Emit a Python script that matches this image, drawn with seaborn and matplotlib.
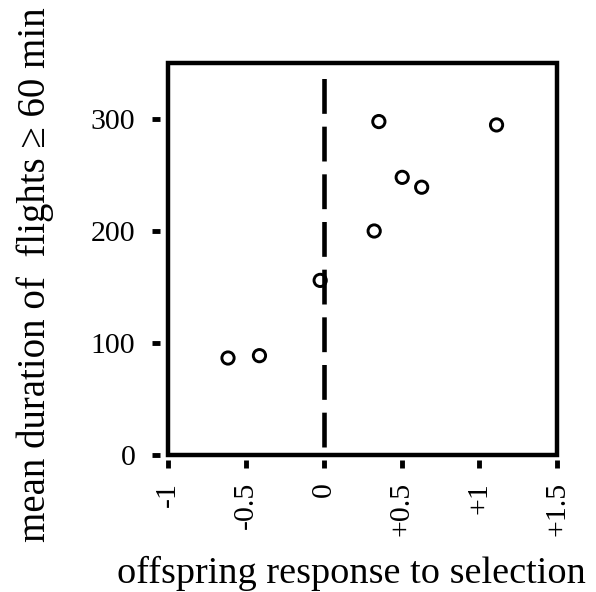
import matplotlib
matplotlib.use("Agg")
import matplotlib.pyplot as plt
import seaborn as sns
import pandas as pd
from matplotlib.patches import Rectangle

response = [-0.615, -0.413, -0.023, 0.354, 1.11, 0.504, 0.629, 0.324]
duration = [86.6, 88.7, 155.9, 297.7, 294.7, 247.9, 239.1, 200.0]
xticks = [-1, -0.5, 0, 0.5, 1, 1.5]
xticklabels = ["-1", "-0.5", "0", "+0.5", "+1", "+1.5"]
yticks = [0, 100, 200, 300]
yticklabels = ["0", "100", "200", "300"]

sns.set_theme(style="white")
plt.rcParams['font.family'] = ['Liberation Serif', 'DejaVu Serif']
plt.rcParams['text.color'] = 'black'
plt.rcParams['xtick.color'] = 'black'
plt.rcParams['ytick.color'] = 'black'
plt.rcParams['axes.labelcolor'] = 'black'

df = pd.DataFrame({"response": response, "duration": duration})

fig = plt.figure(figsize=(5.96, 5.92), dpi=100)
ax = fig.add_axes([0.282, 0.2314, 0.653, 0.6622])

ax.spines["left"].set_position(("outward", 5.8))
ax.spines["bottom"].set_position(("outward", 3.6))
for s in ax.spines.values():
    s.set_visible(False)

sns.scatterplot(data=df, x="response", y="duration", ax=ax, s=78,
                facecolor="none", edgecolor="black", linewidth=2.1, marker="o",
                zorder=4)
ax.axvline(0, color="black", lw=3.3, dashes=(7.6, 2.8), ymin=0.02, ymax=0.962)

ax.set_xlim(-1, 1.5)
ax.set_ylim(0, 350)
ax.set_xticks(xticks)
ax.set_xticklabels(xticklabels, rotation=90, fontsize=21.5)
ax.set_yticks(yticks)
ax.set_yticklabels(yticklabels, fontsize=21.5)

ax.add_patch(Rectangle((0, 0), 1, 1, transform=ax.transAxes, fill=False,
                       edgecolor="black", lw=3.2, clip_on=False, zorder=5))
ax.tick_params(axis="both", direction="out", length=5.8, width=3.5,
               color="black", labelcolor="black", bottom=True, left=True)
ax.tick_params(axis="y", pad=12)
ax.tick_params(axis="x", pad=10)

ax.set_xlabel("offspring response to selection", fontsize=27.5)
ax.set_ylabel("mean duration of  flights \u2265 60 min", fontsize=28)
ax.xaxis.set_label_coords(0.472, -0.258)
ax.yaxis.set_label_coords(-0.292, 0.459)
ax.grid(False)

fig.savefig("out.png", dpi=100, facecolor="white")
